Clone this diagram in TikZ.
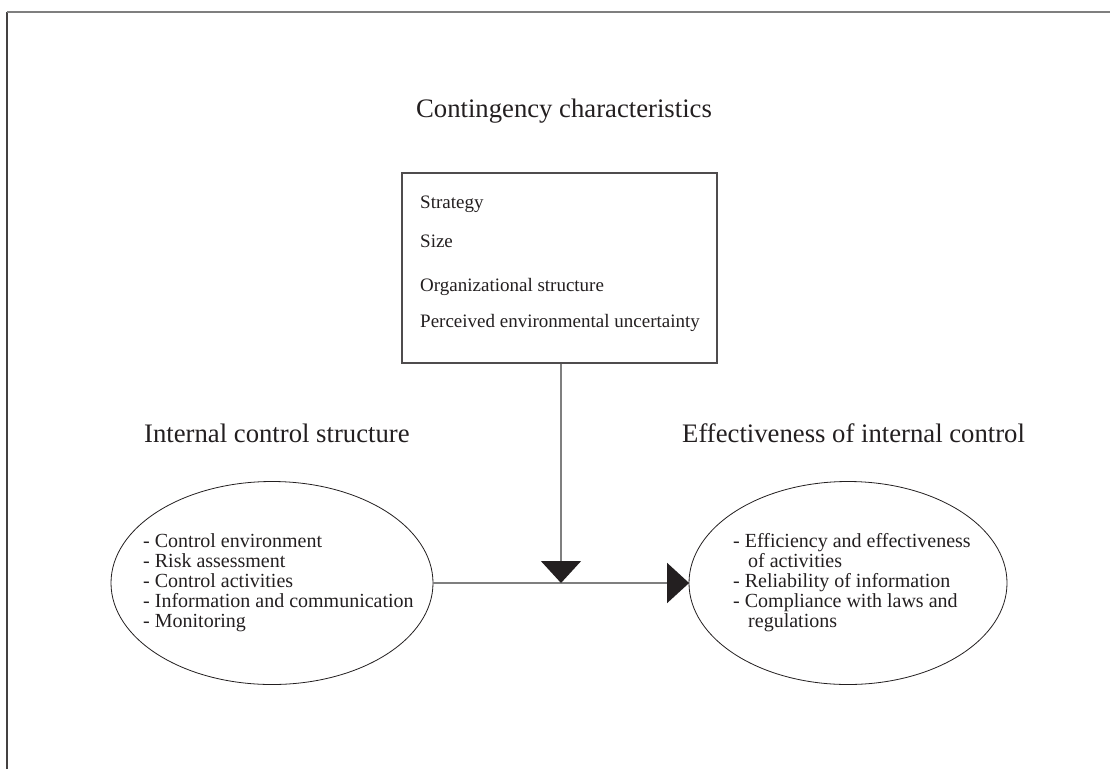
\documentclass[tikz,border=0pt]{standalone}
\usepackage{fontspec}
\setmainfont{Liberation Serif}
\usetikzlibrary{shapes.geometric,arrows.meta}
\definecolor{ink}{HTML}{231F20}
\definecolor{linegray}{HTML}{7F7F7F}
\begin{document}
\begin{tikzpicture}[x=1pt,y=-1pt,
  txt/.style={anchor=base west,inner sep=0pt,text=ink},
  ttl/.style={txt,font=\fontsize{26.7}{30}\selectfont},
  boxtxt/.style={txt,font=\fontsize{19}{22}\selectfont},
  elltxt/.style={txt,font=\fontsize{20}{20}\selectfont,align=left},
  oval/.style={draw=ink,line width=0.8pt,ellipse,inner sep=0pt},
  conn/.style={draw=linegray,line width=1.4pt},
  bigtip/.style={-{Triangle[length=22pt,width=40pt,color=ink,fill=ink]}}]
\useasboundingbox (0,0) rectangle (1110,769);
\fill[white] (0,0) rectangle (1110,769);
% frame
\coordinate (fa) at (7,769);
\coordinate (fb) at (7,12);
\coordinate (fc) at (1110,12);
\draw[draw=ink!85,line width=1.2pt] (fa) -- (fb);
\draw[draw=linegray,line width=1.6pt] (fb) -- (fc);
% titles
\node[ttl,anchor=base] (t1) at (564,117) {Contingency characteristics};
\node[ttl] (t2) at (144,442) {Internal control structure};
\node[ttl] (t3) at (682,442) {Effectiveness of internal control};
% box
\node[draw=ink!80,line width=1.2pt,minimum width=315pt,minimum height=190pt,inner sep=0pt] (box) at (559.5,268) {};
\node[boxtxt] (s1) at (420,208) {Strategy};
\node[boxtxt] (s2) at (420,247) {Size};
\node[boxtxt] (s3) at (420,291) {Organizational structure};
\node[boxtxt] (s4) at (420,327) {Perceived environmental uncertainty};
% ellipses
\node[oval,minimum width=322pt,minimum height=203pt] (L) at (272,583) {};
\node[oval,minimum width=318pt,minimum height=203pt] (R) at (848,583) {};
\node[elltxt] (lt) at (143,627) {- Control environment\\- Risk assessment\\- Control activities\\- Information and communication\\- Monitoring};
\node[elltxt] (rt) at (733,627) {- Efficiency and effectiveness\\\hspace*{15pt}of activities\\- Reliability of information\\- Compliance with laws and\\\hspace*{15pt}regulations};
% connectors
\coordinate (m) at (561,583);
\draw[conn,bigtip,shorten >=-0.5pt] (L.east) -- (R.west);
\draw[conn,bigtip] (box.south -| m) -- (m);
\end{tikzpicture}
\end{document}
